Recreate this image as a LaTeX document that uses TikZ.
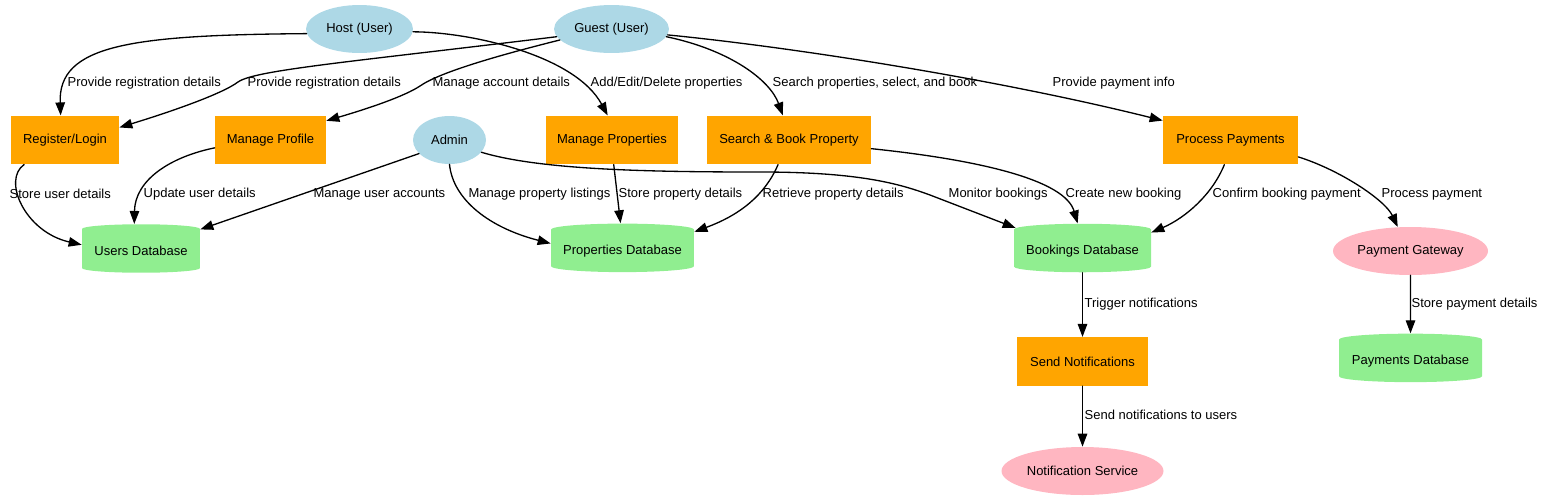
\documentclass[tikz,border=0pt]{standalone}
\usepackage{fontspec}
\setmainfont{Liberation Sans}
\usepackage{xcolor}
\usepackage{tikz}
\tikzset{>=latex}
\usetikzlibrary{shapes,arrows.meta}
\usetikzlibrary{calc}

\definecolor{userblue}{RGB}{173,216,230}
\definecolor{procorange}{RGB}{255,165,0}
\definecolor{dbgreen}{RGB}{144,238,144}
\definecolor{extpink}{RGB}{255,182,193}

\begin{document}
\begin{tikzpicture}[line cap=round,line join=round,>={Triangle[length=0.26cm,width=0.19cm]},x=0.02cm,y=-0.02cm,
	font=\fontsize{7.4}{9}\selectfont,
	actor/.style={ellipse,fill=userblue,inner sep=0pt,minimum height=0.96cm},
	ext/.style={ellipse,fill=extpink,inner sep=0pt,minimum height=0.96cm},
	proc/.style={rectangle,fill=procorange,inner sep=0pt,minimum height=0.97cm},
	store/.style={cylinder,shape border rotate=90,aspect=0.1,fill=dbgreen,inner sep=0pt,minimum height=0.97cm},
	flow/.style={->,line width=0.75pt},
	lbl/.style={anchor=west,inner sep=0pt}]
			\useasboundingbox (0,0) rectangle (1544,501);
			% users
			\node[actor,minimum width=2.14cm] (host) at (359.5,29) {Host (User)};
			\node[actor,minimum width=2.3cm] (guest) at (611.5,29) {Guest (User)};
			\node[actor,minimum width=1.46cm] (admin) at (449.5,140) {Admin};
			% processes
			\node[proc,minimum width=2.16cm] (reg) at (65,140) {Register/Login};
			\node[proc,minimum width=2.22cm] (profile) at (270.5,140) {Manage Profile};
			\node[proc,minimum width=2.64cm] (props) at (612,140) {Manage Properties};
			\node[proc,minimum width=3.28cm] (search) at (789,140) {Search \& Book Property};
			\node[proc,minimum width=2.7cm] (pay) at (1230.5,140) {Process Payments};
			\node[proc,minimum width=2.62cm] (notify) at (1082.5,361.5) {Send Notifications};
			% stores
			\node[store,minimum width=2.36cm] (usersdb) at (141,251) {Users Database};
			\node[store,minimum width=2.86cm] (propdb) at (622.5,251) {Properties Database};
			\node[store,minimum width=2.74cm] (bookdb) at (1082.5,251) {Bookings Database};
			\node[store,minimum width=2.86cm] (paydb) at (1410.5,361) {Payments Database};
			% external services
			\node[ext,minimum width=3.1cm] (gateway) at (1410.5,251) {Payment Gateway};
			\node[ext,minimum width=3.24cm] (notifsvc) at (1082.5,471) {Notification Service};
			% flows
			\draw[flow] (host.185) .. controls (130,35) and (58,45) .. (reg.100) node[lbl] at (67,83) {Provide registration details};
			\draw[flow] (guest.188) .. controls (350,62) and (255,70) .. (238,82) .. controls (222,94) and (170,112) .. (reg.13) node[lbl] at (247,83) {Provide registration details};
			\draw[flow] (guest.192) .. controls (500,55) and (440,72) .. (420,86) .. controls (405,96) and (370,108) .. (profile.19) node[lbl] at (432,83) {Manage account details};
			\draw[flow] (host.-3) .. controls (470,32) and (575,55) .. (props.100) node[lbl] at (590,83) {Add/Edit/Delete properties};
			\draw[flow] (guest.-8) .. controls (730,50) and (770,80) .. (search.104) node[lbl] at (772,83) {Search properties, select, and book};
			\draw[flow] (guest.-6) .. controls (800,48) and (1000,80) .. (pay.164) node[lbl] at (1052,83) {Provide payment info};
			\draw[flow] (reg.211) .. controls (2,180) and (25,232) .. (usersdb.174) node[lbl] at (9,194) {Store user details};
			\draw[flow] (profile.188) .. controls (170,157) and (135,180) .. (usersdb.104) node[lbl] at (143,194) {Update user details};
			\draw[flow] (admin.204) -- (usersdb.20) node[lbl] at (313,194) {Manage user accounts};
			\draw[flow] (admin.south) .. controls (453,200) and (490,228) .. (propdb.174) node[lbl] at (468,194) {Manage property listings};
			\draw[flow] (props.-86) -- (propdb.94) node[lbl] at (618,194) {Store property details};
			\draw[flow] (search.-114) .. controls (765,195) and (740,215) .. (propdb.15) node[lbl] at (762,194) {Retrieve property details};
			\draw[flow] (admin.-21) .. controls (540,170) and (650,172) .. (760,172) .. controls (860,172) and (900,184) .. (930,195) -- (bookdb.161) node[lbl] at (948,194) {Monitor bookings};
			\draw[flow] (search.-6) .. controls (980,160) and (1065,180) .. (bookdb.100) node[lbl] at (1065,194) {Create new booking};
			\draw[flow] (pay.-104) .. controls (1212,195) and (1185,218) .. (bookdb.15) node[lbl] at (1212,194) {Confirm booking payment};
			\draw[flow] (pay.-14) .. controls (1340,170) and (1385,200) .. (gateway.118) node[lbl] at (1381,194) {Process payment};
			\draw[flow] (bookdb.south) -- (notify.north) node[lbl] at (1084,304) {Trigger notifications};
			\draw[flow] (notify.south) -- (notifsvc.north) node[lbl] at (1084,415) {Send notifications to users};
			\draw[flow] (gateway.south) -- (paydb.north) node[lbl] at (1411,304) {Store payment details};
		\end{tikzpicture}
\end{document}
